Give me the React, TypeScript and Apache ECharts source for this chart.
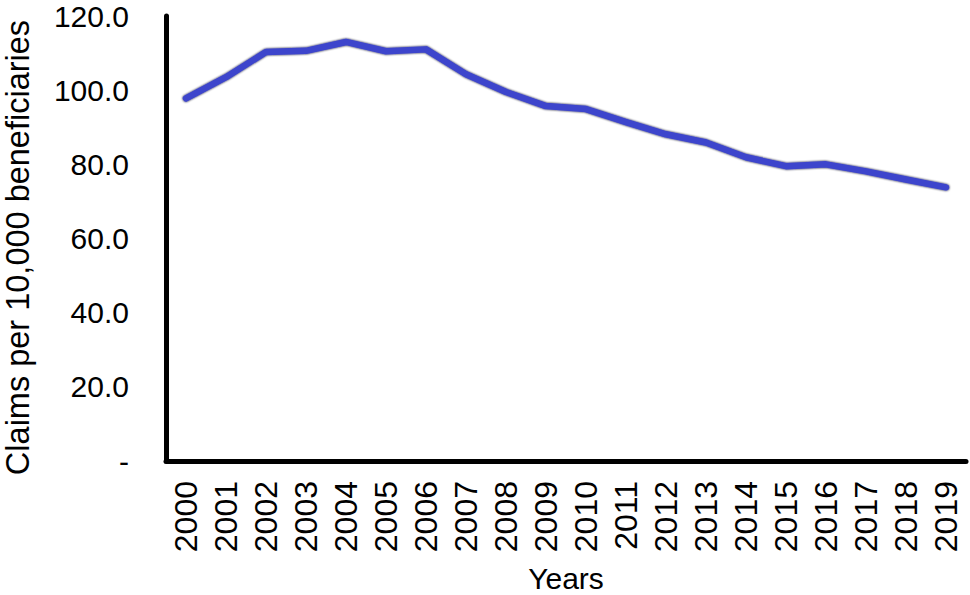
import React, { useEffect, useRef } from "react";
import * as echarts from "echarts";

const years = [
  "2000", "2001", "2002", "2003", "2004", "2005", "2006", "2007", "2008", "2009",
  "2010", "2011", "2012", "2013", "2014", "2015", "2016", "2017", "2018", "2019",
];
const claimsPer10k = [
  97.8, 103.5, 110.3, 110.6, 113.0, 110.5, 111.0, 104.3, 99.5, 95.7,
  94.9, 91.4, 88.1, 85.9, 81.9, 79.5, 80.0, 78.1, 75.9, 73.8,
];
const yTicks = [0, 20, 40, 60, 80, 100, 120];

const FONT = "'Liberation Sans', Arial, sans-serif";

export default function App() {
  const ref = useRef<HTMLDivElement>(null);
  useEffect(() => {
    if (!ref.current) return;
    const chart = echarts.init(ref.current, null, { renderer: "svg" });
    chart.setOption({
      animation: false,
      backgroundColor: "#ffffff",
      grid: {
        left: 166,
        right: 4,
        top: 16,
        bottom: 134,
        containLabel: false,
        outerBoundsMode: "none",
      },
      xAxis: {
        type: "category",
        data: years,
        boundaryGap: true,
        name: "Years",
        nameLocation: "middle",
        nameGap: 102,
        nameTextStyle: { fontFamily: FONT, fontSize: 30, color: "#000" },
        axisLine: { show: true, lineStyle: { color: "#000", width: 5 } },
        axisTick: { show: false },
        axisLabel: {
          rotate: 90,
          margin: 20,
          fontFamily: FONT,
          fontSize: 32,
          color: "#000",
          interval: 0,
        },
        splitLine: { show: false },
      },
      yAxis: {
        type: "value",
        min: yTicks[0],
        max: yTicks[yTicks.length - 1],
        interval: 20,
        name: "Claims per 10,000 beneficiaries",
        nameLocation: "middle",
        nameGap: 132,
        nameTextStyle: {
          fontFamily: FONT,
          fontSize: 32.5,
          lineHeight: 33,
          color: "#000",
          padding: [0, 18, 0, 0],
        },
        axisLine: { show: true, lineStyle: { color: "#000", width: 5 } },
        axisTick: { show: false },
        axisLabel: {
          margin: 37,
          fontFamily: FONT,
          fontSize: 30,
          color: "#000",
          formatter: (v: number) => (v === 0 ? "-" : v.toFixed(1)),
        },
        splitLine: { show: false },
      },
      series: [
        {
          type: "line",
          data: claimsPer10k,
          showSymbol: false,
          symbol: "none",
          lineStyle: {
            color: "#3d45cc",
            width: 6.5,
            cap: "round",
            join: "round",
            shadowColor: "rgba(10,10,40,1)",
            shadowBlur: 2,
          },
        },
      ],
    });
    return () => chart.dispose();
  }, []);
  return (
    <div
      ref={ref}
      style={{ position: "absolute", left: 0, top: 0, width: 970, height: 595 }}
    />
  );
}
